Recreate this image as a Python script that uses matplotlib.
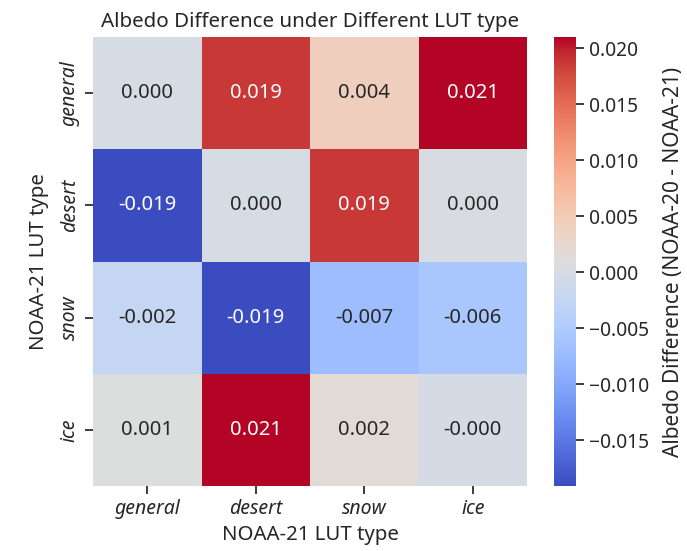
import numpy as np
import pandas as pd
import seaborn as sns
import matplotlib.pyplot as plt

sns.set_theme(style="ticks")
plt.rcParams['font.family'] = ['Noto Sans', 'DejaVu Sans']

# LUT types (rows: NOAA-21 LUT, columns: NOAA-21 LUT as labelled)
lut_types = ['general', 'desert', 'snow', 'ice']

# albedo difference NOAA-20 - NOAA-21
row_general = [0.0000, 0.0188, 0.0043, 0.0210]
row_desert = [-0.0191, 0.0000, 0.0187, 0.0002]
row_snow = [-0.0024, -0.0191, -0.0072, -0.0058]
row_ice = [0.0008, 0.0209, 0.0018, -0.0002]

df = pd.DataFrame([row_general, row_desert, row_snow, row_ice],
                  index=lut_types, columns=lut_types)

fig = plt.figure(figsize=(6.87, 5.51), dpi=100)
ax = fig.add_axes([93/687, 1 - 486/551, 434/687, 449/551])
cax = fig.add_axes([554/687, 1 - 486/551, 22/687, 449/551])

sns.heatmap(df, annot=True, fmt='.3f', cmap='coolwarm', ax=ax, cbar_ax=cax,
            annot_kws={'fontsize': 14.5},
            cbar_kws={'label': 'Albedo Difference (NOAA-20 - NOAA-21)'})

ax.set_title('Albedo Difference under Different LUT type', fontsize=14.8, pad=7)
ax.set_xlabel('NOAA-21 LUT type', fontsize=14.7)
ax.set_ylabel('NOAA-21 LUT type', fontsize=14.7, labelpad=7.5)
ax.tick_params(axis='both', labelsize=14)
for t in ax.get_xticklabels():
    t.set_style('italic')
    t.set_rotation(0)
for t in ax.get_yticklabels():
    t.set_style('italic')
    t.set_rotation(90)
    t.set_va('center')

cax.tick_params(labelsize=13.8)
cax.set_ylabel('Albedo Difference (NOAA-20 - NOAA-21)', fontsize=15, labelpad=10)

fig.savefig('out.png', dpi=100)
